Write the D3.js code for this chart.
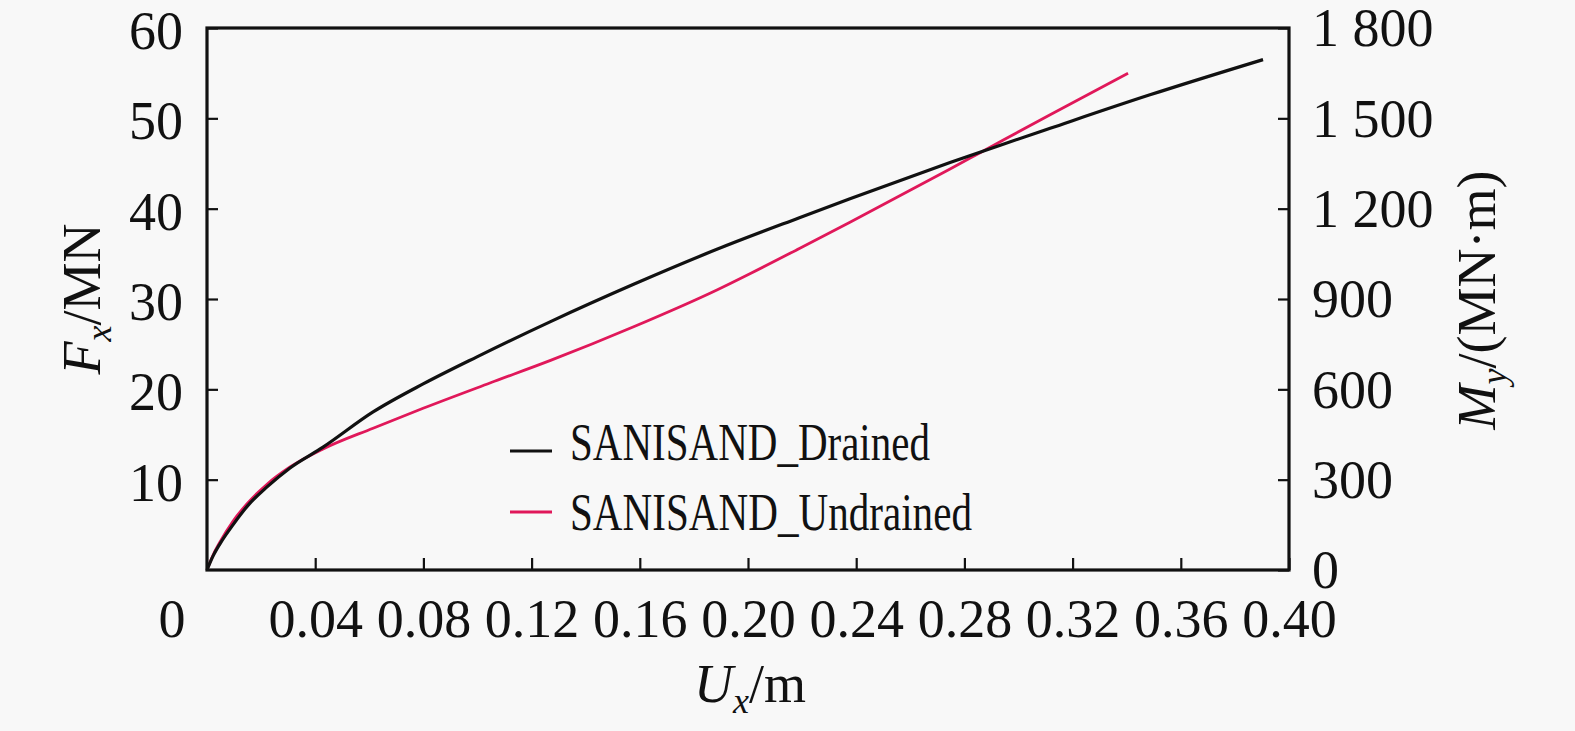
<!DOCTYPE html>
<html>
<head>
<meta charset="utf-8">
<script src="https://cdn.jsdelivr.net/npm/d3@7"></script>
<style>
  html, body { margin: 0; padding: 0; background: #f8f8f8; }
  svg { display: block; }
  text { font-family: "Liberation Serif", "Times New Roman", serif; fill: #111; }
</style>
</head>
<body>
<svg id="chart" width="1575" height="731"></svg>
<script>
// ---- Data ----
const drainedU = [0, 0.002, 0.0048, 0.0096, 0.015, 0.0222, 0.0307, 0.0429, 0.0614, 0.0799, 0.0998, 0.127, 0.1575, 0.1885, 0.219, 0.2377, 0.2747, 0.293, 0.3117, 0.3486, 0.3904];
const drainedF = [0, 1.4, 2.9, 5.0, 7.1, 9.2, 11.3, 13.6, 17.5, 20.6, 23.6, 27.5, 31.6, 35.5, 39.0, 41.1, 45.1, 47.0, 48.9, 52.6, 56.5];
const undrainedU = [0, 0.002, 0.0048, 0.0096, 0.015, 0.0222, 0.0307, 0.0429, 0.0614, 0.0799, 0.1046, 0.127, 0.1575, 0.1885, 0.2007, 0.219, 0.2377, 0.2747, 0.2858, 0.3117, 0.3405];
const undrainedF = [0, 1.5, 3.1, 5.4, 7.4, 9.5, 11.4, 13.4, 15.7, 17.9, 20.7, 23.2, 26.9, 31.0, 32.8, 35.6, 38.5, 44.4, 46.2, 50.4, 55.0];
const seriesNames = ["SANISAND_Drained", "SANISAND_Undrained"];
const xTicks = [0.04, 0.08, 0.12, 0.16, 0.20, 0.24, 0.28, 0.32, 0.36, 0.40];
const xTickLabels = ["0.04", "0.08", "0.12", "0.16", "0.20", "0.24", "0.28", "0.32", "0.36", "0.40"];
const yLeftTicks = [10, 20, 30, 40, 50, 60];
const yRightTicks = [0, 300, 600, 900, 1200, 1500, 1800];
const yRightTickLabels = ["0", "300", "600", "900", "1 200", "1 500", "1 800"];

// ---- Layout ----
const L = 207, R = 1289, T = 28, B = 570;
const svg = d3.select("#chart");
const x = d3.scaleLinear().domain([0, 0.40]).range([L, R]);
const yL = d3.scaleLinear().domain([0, 60]).range([B, T]);
const yR = d3.scaleLinear().domain([0, 1800]).range([B, T]);
const FS = 54;

// axes
const gx = svg.append("g").attr("transform", `translate(0,${B})`)
  .call(d3.axisBottom(x).tickValues(xTicks).tickSize(-12).tickPadding(29)
    .tickFormat((d, i) => xTickLabels[i]));
const gyl = svg.append("g").attr("transform", `translate(${L},0)`)
  .call(d3.axisLeft(yL).tickValues(yLeftTicks).tickSize(-11).tickPadding(24));
const gyr = svg.append("g").attr("transform", `translate(${R},0)`)
  .call(d3.axisRight(yR).tickValues(yRightTicks).tickSize(-11).tickPadding(23)
    .tickFormat((d, i) => yRightTickLabels[i]));
[gx, gyl, gyr].forEach(g => {
  g.select(".domain").remove();
  g.selectAll(".tick line").attr("stroke", "#111").attr("stroke-width", 2.2);
  g.selectAll(".tick text").attr("font-size", FS).attr("fill", "#111")
    .style("font-family", '"Liberation Serif", "Times New Roman", serif');
});
gyl.selectAll(".tick text").attr("dy", "0.38em");
gyr.selectAll(".tick text").attr("dy", "0.33em");

// origin "0" label on x axis
svg.append("text").attr("x", x(0) - 35).attr("y", 637)
  .attr("text-anchor", "middle").attr("font-size", FS).text("0");

// curves
const line = d3.line().x(d => x(d[0])).y(d => yL(d[1])).curve(d3.curveMonotoneX);
const drained = drainedU.map((u, i) => [u, drainedF[i]]);
const undrained = undrainedU.map((u, i) => [u, undrainedF[i]]);
svg.append("path").datum(undrained).attr("d", line)
  .attr("fill", "none").attr("stroke", "#e0185a").attr("stroke-width", 2.8);
svg.append("path").datum(drained).attr("d", line)
  .attr("fill", "none").attr("stroke", "#111").attr("stroke-width", 3.2);

// frame
svg.append("rect").attr("x", L).attr("y", T).attr("width", R - L).attr("height", B - T)
  .attr("fill", "none").attr("stroke", "#111").attr("stroke-width", 3.2);

// legend
const leg = [
  { name: seriesNames[0], color: "#111", ly: 451, ty: 460, len: 360 },
  { name: seriesNames[1], color: "#e0185a", ly: 512, ty: 530, len: 402 }
];
leg.forEach(d => {
  svg.append("line").attr("x1", 510).attr("x2", 552).attr("y1", d.ly).attr("y2", d.ly)
    .attr("stroke", d.color).attr("stroke-width", 3);
  svg.append("text").attr("x", 570).attr("y", d.ty).attr("font-size", 53)
    .attr("textLength", d.len).attr("lengthAdjust", "spacingAndGlyphs").text(d.name);
});

// axis titles
function title(g, main, sub, rest) {
  const t = g.append("text").attr("text-anchor", "middle").attr("font-size", FS);
  t.append("tspan").attr("font-style", "italic").text(main);
  t.append("tspan").attr("font-style", "italic").attr("font-size", 36).attr("dy", 11).text(sub);
  t.append("tspan").attr("dy", -11).text(rest);
  return t;
}
title(svg.append("g").attr("transform", "translate(100,299) rotate(-90)"), "F", "x", "/MN");
title(svg.append("g").attr("transform", "translate(1495,300) rotate(-90)"), "M", "y", "/(MN·m)");
title(svg.append("g").attr("transform", "translate(750,702)"), "U", "x", "/m");
</script>
</body>
</html>
